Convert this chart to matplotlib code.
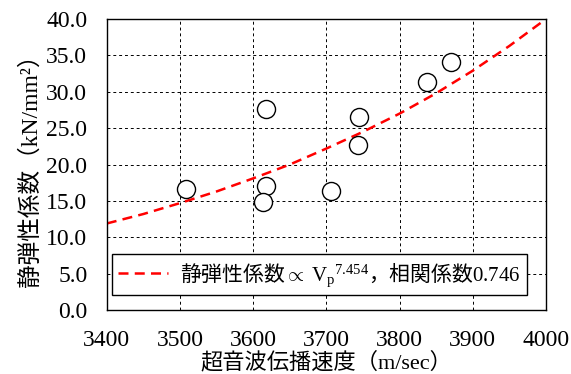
import matplotlib
matplotlib.use("Agg")
import matplotlib.pyplot as plt

plt.rcParams['font.family'] = ['Liberation Serif', 'Noto Sans CJK JP']
plt.rcParams['mathtext.fontset'] = 'custom'
plt.rcParams['mathtext.rm'] = 'Liberation Serif'
plt.rcParams['mathtext.it'] = 'Liberation Serif:italic'
plt.rcParams['mathtext.sf'] = 'Noto Sans CJK JP'

# measured points
velocity = [3508, 3617, 3617, 3614, 3706, 3744, 3743, 3838, 3870]
modulus = [16.6, 27.6, 17.0, 14.8, 16.3, 26.5, 22.7, 31.3, 34.1]

# fitted curve
fit_v = [3400, 3450, 3500, 3550, 3600, 3650, 3700, 3750, 3800, 3850, 3900, 3950, 4000]
fit_e = [11.9, 13.2, 14.7, 16.3, 18.1, 20.0, 22.2, 24.5, 27.0, 29.8, 32.9, 36.3, 40.0]

x_ticks = [3400, 3500, 3600, 3700, 3800, 3900, 4000]
y_ticks = [0, 5, 10, 15, 20, 25, 30, 35, 40]

fit_label = (r'静弾性係数$\propto\ \mathrm{V}_\mathrm{p}$$^\mathrm{7.454}$，'
             r'相関係数$\mathrm{0.746}$')

fig = plt.figure(figsize=(5.71, 3.74), dpi=100)
ax = fig.add_axes([0.187, 0.171, 0.769, 0.778])

ax.plot(fit_v, fit_e, color='red', lw=1.8, dashes=(4, 2.5), label=fit_label, zorder=2)
ax.plot(velocity, modulus, 'o', ms=13, mfc='white', mec='black', mew=1, zorder=3)

ax.set_xlim(3400, 4000)
ax.set_ylim(0, 40)
ax.set_xticks(x_ticks)
ax.set_yticks(y_ticks)
ax.set_yticklabels(['%.1f' % v for v in y_ticks])
ax.tick_params(length=0, labelsize=17)
ax.tick_params(axis='y', pad=14)
ax.tick_params(axis='x', pad=14.5)
ax.grid(True, color='black', ls=(0, (3, 3)), lw=0.7)
ax.set_axisbelow(True)
for s in ax.spines.values():
    s.set_color('black')
    s.set_linewidth(1)

ax.set_xlabel('超音波伝播速度（m/sec）', fontsize=16, labelpad=0.5)
ax.set_ylabel('静弾性係数（kN/mm²）', fontsize=17, labelpad=3)

leg = ax.legend(loc='lower left', bbox_to_anchor=(0.011, 0.052), borderaxespad=0,
                prop={'family': 'Noto Sans CJK JP', 'size': 15},
                fancybox=False, framealpha=1, edgecolor='black',
                handlelength=2.4, borderpad=0.3, handletextpad=0.6)
leg.get_frame().set_linewidth(1)

fig.savefig('out.png', dpi=100)
